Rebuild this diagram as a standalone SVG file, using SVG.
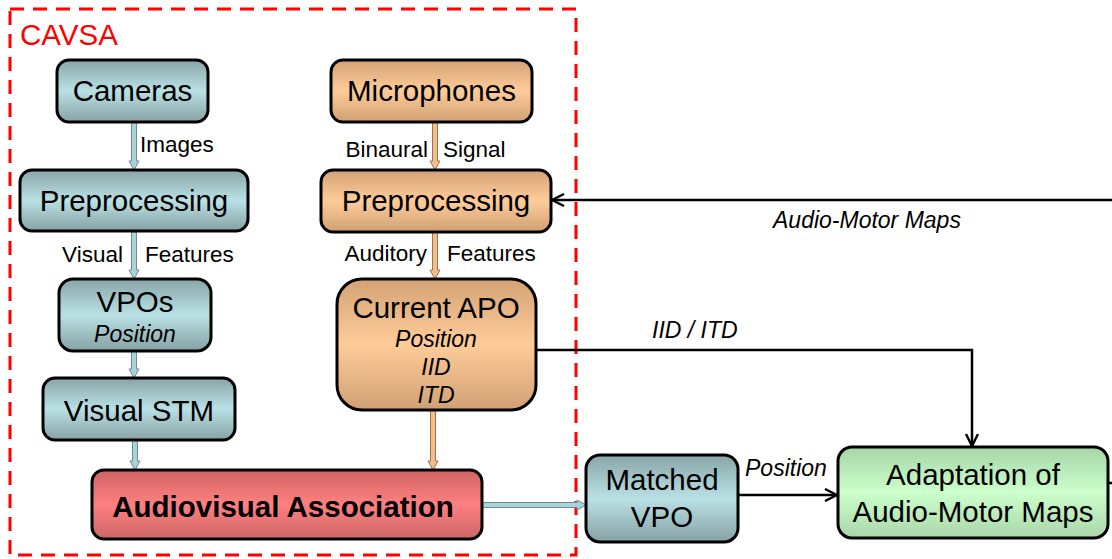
<svg xmlns="http://www.w3.org/2000/svg" width="1112" height="559" viewBox="0 0 1112 559">
  <defs>
    <linearGradient id="gBlue" x1="0" y1="0" x2="0" y2="1">
      <stop offset="0" stop-color="#89a5a7"/>
      <stop offset="0.5" stop-color="#b9e1e5"/>
      <stop offset="1" stop-color="#86a1a3"/>
    </linearGradient>
    <linearGradient id="gOrange" x1="0" y1="0" x2="0" y2="1">
      <stop offset="0" stop-color="#d3a275"/>
      <stop offset="0.5" stop-color="#ffcc99"/>
      <stop offset="1" stop-color="#d0a074"/>
    </linearGradient>
    <linearGradient id="gRed" x1="0" y1="0" x2="0" y2="1">
      <stop offset="0" stop-color="#cf6464"/>
      <stop offset="0.5" stop-color="#ff8080"/>
      <stop offset="1" stop-color="#cc6666"/>
    </linearGradient>
    <linearGradient id="gGreen" x1="0" y1="0" x2="0" y2="1">
      <stop offset="0" stop-color="#a6d5a6"/>
      <stop offset="0.5" stop-color="#ccffcc"/>
      <stop offset="1" stop-color="#a9d6a9"/>
    </linearGradient>
    <marker id="vee" viewBox="0 0 14 14" refX="13" refY="7" markerWidth="14" markerHeight="14" markerUnits="userSpaceOnUse" orient="auto">
      <path d="M1,1 L13,7 L1,13" fill="none" stroke="#000" stroke-width="2.4"/>
    </marker>
  </defs>
  <style>
    .box { stroke: #000; stroke-width: 3; }
    .blue { fill: url(#gBlue); }
    .orange { fill: url(#gOrange); }
    .red { fill: url(#gRed); }
    .green { fill: url(#gGreen); }
    .t { font-family: "Liberation Sans", Arial, sans-serif; font-size: 29.5px; fill: #000; text-anchor: middle; }
    .tb { font-family: "Liberation Sans", Arial, sans-serif; font-size: 29.5px; font-weight: bold; fill: #000; text-anchor: middle; }
    .ti { font-family: "Liberation Sans", Arial, sans-serif; font-size: 23px; font-style: italic; fill: #000; text-anchor: middle; }
    .lbl { font-family: "Liberation Sans", Arial, sans-serif; font-size: 22.5px; fill: #000; }
    .lbli { font-family: "Liberation Sans", Arial, sans-serif; font-size: 23px; font-style: italic; fill: #000; }
    .line { fill: none; stroke: #000; stroke-width: 2.5; }
    .arrB { fill: #a9d3d9; stroke: #6f8a90; stroke-width: 1; }
    .arrO { fill: #f3bd8c; stroke: #9a7450; stroke-width: 1; }
    .frame { fill: none; stroke: #ff0000; stroke-width: 3; stroke-dasharray: 14 9; }
  </style>

  <!-- CAVSA subsystem frame -->
  <g id="cavsa">
    <rect class="frame" x="10" y="9" width="566" height="546"/>
    <text x="20" y="45" font-family="Liberation Sans, Arial, sans-serif" font-size="29.5" fill="#ff0000">CAVSA</text>
  </g>

  <!-- connectors -->
  <g id="connectors">
    <!-- visual chain -->
    <polygon class="arrB" points="131.5,122 136.5,122 136.5,161 139,161 134,170 129,161 131.5,161"/>
    <polygon class="arrB" points="131.5,232 136.5,232 136.5,270 139,270 134,279 129,270 131.5,270"/>
    <polygon class="arrB" points="131.5,351 136.5,351 136.5,369 139,369 134,378 129,369 131.5,369"/>
    <polygon class="arrB" points="132.5,440 137.5,440 137.5,461 140,461 135,470 130,461 132.5,461"/>
    <!-- auditory chain -->
    <polygon class="arrO" points="432.5,122 437.5,122 437.5,161 440,161 435,170 430,161 432.5,161"/>
    <polygon class="arrO" points="432.5,232 437.5,232 437.5,270 440,270 435,279 430,270 432.5,270"/>
    <polygon class="arrO" points="430.5,410 435.5,410 435.5,461 438,461 433,470 428,461 430.5,461"/>
    <!-- association to matched VPO -->
    <polygon class="arrB" points="482,502.5 577,502.5 577,500 586,505 577,510 577,507.5 482,507.5"/>
    <!-- IID / ITD to adaptation -->
    <path class="line" d="M536,350 H972 V446" marker-end="url(#vee)"/>
    <!-- matched position to adaptation -->
    <path class="line" d="M738,495 H837" marker-end="url(#vee)"/>
    <!-- adapted maps fed back to auditory preprocessing -->
    <path class="line" d="M1108,483 H1130 V200 H552" marker-end="url(#vee)"/>

    <text class="lbl" x="140" y="152">Images</text>
    <text class="lbl" x="123" y="262" text-anchor="end">Visual</text>
    <text class="lbl" x="145" y="262">Features</text>
    <text class="lbl" x="428" y="157" text-anchor="end">Binaural</text>
    <text class="lbl" x="443" y="157">Signal</text>
    <text class="lbl" x="427" y="261" text-anchor="end">Auditory</text>
    <text class="lbl" x="447" y="261">Features</text>
    <text class="lbli" x="773" y="228">Audio-Motor Maps</text>
    <text class="lbli" x="652" y="338">IID / ITD</text>
    <text class="lbli" x="745" y="476">Position</text>
  </g>

  <g id="cameras">
    <rect class="box blue" x="57" y="60" width="151" height="62" rx="12"/>
    <text class="t" x="132.5" y="101">Cameras</text>
  </g>
  <g id="visual-preprocessing">
    <rect class="box blue" x="20" y="170" width="228" height="61" rx="12"/>
    <text class="t" x="134" y="211">Preprocessing</text>
  </g>
  <g id="vpos">
    <rect class="box blue" x="59" y="279" width="152" height="72" rx="14"/>
    <text class="t" x="135" y="312">VPOs</text>
    <text class="ti" x="135" y="342">Position</text>
  </g>
  <g id="visual-stm">
    <rect class="box blue" x="43" y="378" width="192" height="62" rx="12"/>
    <text class="t" x="139" y="421">Visual STM</text>
  </g>
  <g id="microphones">
    <rect class="box orange" x="331" y="60" width="201" height="62" rx="12"/>
    <text class="t" x="431.5" y="101">Microphones</text>
  </g>
  <g id="auditory-preprocessing">
    <rect class="box orange" x="321" y="170" width="230" height="62" rx="12"/>
    <text class="t" x="436" y="211">Preprocessing</text>
  </g>
  <g id="current-apo">
    <rect class="box orange" x="337" y="279" width="199" height="131" rx="25"/>
    <text class="t" x="436" y="318">Current APO</text>
    <text class="ti" x="436" y="347">Position</text>
    <text class="ti" x="436" y="375">IID</text>
    <text class="ti" x="436" y="403">ITD</text>
  </g>
  <g id="audiovisual-association">
    <rect class="box red" x="92" y="470" width="390" height="69" rx="12"/>
    <text class="tb" x="283" y="517">Audiovisual Association</text>
  </g>
  <g id="matched-vpo">
    <rect class="box blue" x="586" y="455" width="152" height="87" rx="14"/>
    <text class="t" x="662" y="490">Matched</text>
    <text class="t" x="662" y="527">VPO</text>
  </g>
  <g id="adaptation">
    <rect class="box green" x="838" y="447" width="270" height="91" rx="14"/>
    <text class="t" x="973" y="485">Adaptation of</text>
    <text class="t" x="973" y="522">Audio-Motor Maps</text>
  </g>
</svg>
